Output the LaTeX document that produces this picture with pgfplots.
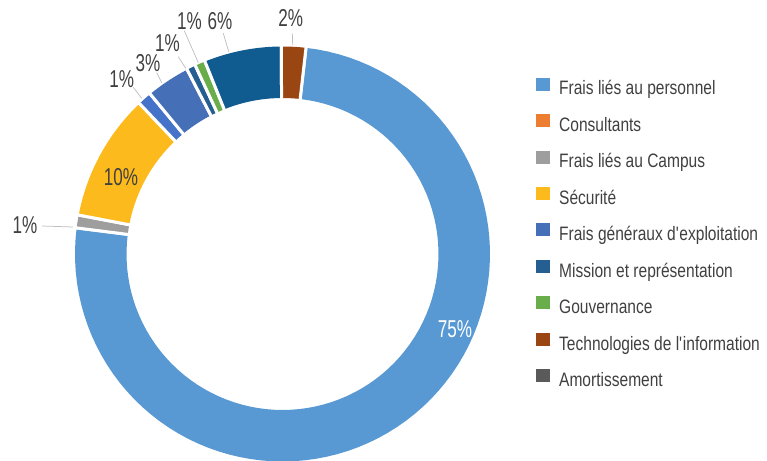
\documentclass[border=0pt]{standalone}
\usepackage{fontspec}
\setmainfont{Liberation Sans}[FakeStretch=0.8]
\newfontfamily\lblfont{Liberation Sans}[FakeStretch=0.7]
\usepackage{pgfplots}
\pgfplotsset{compat=1.18}

\definecolor{cPers}{HTML}{5899D4}
\definecolor{cCons}{HTML}{ED7D31}
\definecolor{cCamp}{HTML}{9E9E9E}
\definecolor{cSecu}{HTML}{FDBA1D}
\definecolor{cBlue}{HTML}{4473C9}
\definecolor{cFrais}{HTML}{4570B8}
\definecolor{cMiss}{HTML}{255E91}
\definecolor{cGouv}{HTML}{6AAD4B}
\definecolor{cDark}{HTML}{105B8F}
\definecolor{cTech}{HTML}{9A4612}
\definecolor{cAmor}{HTML}{5A5A5A}
\definecolor{txt}{HTML}{404040}
\definecolor{lead}{HTML}{BFBFBF}

% ring: centre (282.5,207), outer radius 207.5, inner 156
\newcommand\phiA{6.5}
\newcommand\slice[2]{%
  \pgfmathsetmacro\phiB{\phiA+3.6*#2}%
  \edef\doslice{%
    \noexpand\addplot[draw=#1, line width=51.5bp, domain=\phiA:\phiB, samples=90, forget plot]
      ({282.5+181.75*sin(x)},{207+181.75*cos(x)});
    \noexpand\addplot[draw=white, line width=3bp, domain=150:214, samples=2, forget plot]
      ({282.5+x*sin(\phiA)},{207+x*cos(\phiA)});
    \noexpand\addplot[draw=white, line width=3bp, domain=150:214, samples=2, forget plot]
      ({282.5+x*sin(\phiB)},{207+x*cos(\phiB)});
  }\doslice
  \global\let\phiA\phiB}

\pgfplotsset{sq legend/.style={legend image code/.code={\fill[##1, draw=none] (0bp,0bp) rectangle (14bp,13bp);}}}

\begin{document}
\begin{tikzpicture}
\path[use as bounding box] (0,0) rectangle (767bp,461bp);
\begin{axis}[
  at={(0,0)}, anchor=south west,
  hide axis, scale only axis,
  x=1bp, y=1bp,
  xmin=0, xmax=767, ymin=0, ymax=461,
  legend cell align=left,
  legend style={at={(0.6988,0.8319)}, anchor=north west, draw=none, fill=none,
    inner sep=0pt, row sep=14.7bp, column sep=9bp,
    font=\fontsize{19.5}{19.5}\selectfont, text=txt,
    nodes={inner sep=0pt, text height=13bp, text depth=4.5bp}},
]
% shares in %, clockwise from personnel (zero shares: Consultants, Amortissement)
\slice{cPers}{75.2}
\slice{cCamp}{1.0}
\slice{cSecu}{9.9}
\slice{cBlue}{1.1}
\slice{cFrais}{3.4}
\slice{cMiss}{0.7}
\slice{cGouv}{0.8}
\slice{cDark}{6.0}
\slice{cTech}{1.9}

\addlegendimage{sq legend, fill=cPers}\addlegendentry{Frais liés au personnel}
\addlegendimage{sq legend, fill=cCons}\addlegendentry{Consultants}
\addlegendimage{sq legend, fill=cCamp}\addlegendentry{Frais liés au Campus}
\addlegendimage{sq legend, fill=cSecu}\addlegendentry{Sécurité}
\addlegendimage{sq legend, fill=cFrais}\addlegendentry{Frais généraux d\textquotesingle exploitation}
\addlegendimage{sq legend, fill=cMiss}\addlegendentry{Mission et représentation}
\addlegendimage{sq legend, fill=cGouv}\addlegendentry{Gouvernance}
\addlegendimage{sq legend, fill=cTech}\addlegendentry{Technologies de l\textquotesingle information}
\addlegendimage{sq legend, fill=cAmor}\addlegendentry{Amortissement}

% leader lines
\draw[lead, line width=0.75bp] (42,235) -- (73,234);
\draw[lead, line width=0.75bp] (133.3,373.7) -- (141.7,362.7);
\draw[lead, line width=0.75bp] (156.7,388.3) -- (161.7,378.3);
\draw[lead, line width=0.75bp] (178.3,404.3) -- (185.7,392.7);
\draw[lead, line width=0.75bp] (184.3,430.3) -- (198.3,398.3);
\draw[lead, line width=0.75bp] (223.3,427.7) -- (228.7,409.3);
\draw[lead, line width=0.75bp] (292.3,427.7) -- (292.7,416);

% data labels
\begin{scope}[every node/.style={anchor=base, inner sep=0pt, text=txt,
    font=\lblfont\fontsize{24.5}{24.5}\selectfont}]
\node[text=white] at (455,124) {75\%};
\node at (121,276) {10\%};
\node at (25,227.7) {1\%};
\node at (121.7,373.7) {1\%};
\node at (148,389.3) {3\%};
\node at (167.5,409.3) {1\%};
\node at (189.5,431) {1\%};
\node at (220,431) {6\%};
\node at (290.7,434.3) {2\%};
\end{scope}
\end{axis}
\end{tikzpicture}
\end{document}
